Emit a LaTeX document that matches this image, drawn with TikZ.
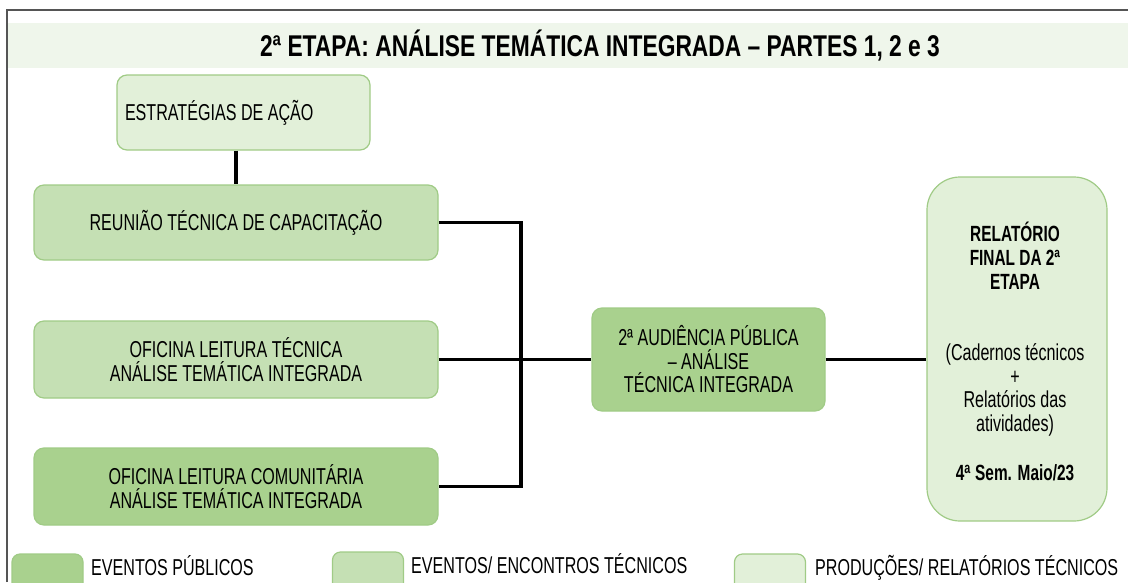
\documentclass[tikz,border=0pt]{standalone}
\usepackage{fontspec}
\setmainfont{Liberation Sans}[FakeStretch=0.70]
\newfontfamily\titlefont{Liberation Sans}[FakeStretch=0.76]
\definecolor{gdark}{HTML}{A9D18E}
\definecolor{gmid}{HTML}{C5E0B4}
\definecolor{glight}{HTML}{E2F0D9}
\definecolor{boxline}{HTML}{A0CB86}
\definecolor{bandc}{HTML}{EFF6EB}
\definecolor{framec}{HTML}{555555}
\begin{document}
\begin{tikzpicture}[x=1pt,y=-1pt,
  box/.style={draw=boxline, line width=1.2pt, rounded corners=10pt, inner sep=0pt,
    align=center, font=\fontsize{23}{23.5}\selectfont},
  darkbox/.style={box, fill=gdark},
  midbox/.style={box, fill=gmid},
  lightbox/.style={box, fill=glight},
  conn/.style={line width=3.5pt, black},
  legbox/.style={draw=boxline, line width=1.2pt, rounded corners=8pt, inner sep=0pt,
    minimum width=71pt, minimum height=50pt},
  legtext/.style={anchor=base west, inner sep=0pt, font=\fontsize{23}{24}\selectfont},
  reltext/.style={inner sep=0pt, align=center}]
\useasboundingbox (0,0) rectangle (1128,582);
\clip (0,0) rectangle (1128,582);
% frame and title band
\fill[bandc] (7,23) rectangle (1128,68);
\draw[framec, line width=1.3pt] (7,582) -- (7,10) -- (1128,10);
\node[inner sep=0pt, font=\titlefont\fontsize{30}{34}\selectfont\bfseries] (title) at (600,46)
  {2ª ETAPA: ANÁLISE TEMÁTICA INTEGRADA – PARTES 1, 2 e 3};
% boxes
\node[lightbox, minimum width=253pt, minimum height=75pt]
  (est) at (243.5,112.5) {\makebox[237pt][l]{ESTRATÉGIAS DE AÇÃO}};
\node[midbox, minimum width=404pt, minimum height=75pt] (rea) at (236,222.5)
  {REUNIÃO TÉCNICA DE CAPACITAÇÃO};
\node[midbox, minimum width=404pt, minimum height=77pt] (oft) at (236,359.5)
  {OFICINA LEITURA TÉCNICA\\ANÁLISE TEMÁTICA INTEGRADA};
\node[darkbox, minimum width=404pt, minimum height=77pt] (com) at (236,486.5)
  {OFICINA LEITURA COMUNITÁRIA\\ANÁLISE TEMÁTICA INTEGRADA};
\node[darkbox, minimum width=233pt, minimum height=103pt] (aud) at (708.5,359.5)
  {2ª AUDIÊNCIA PÚBLICA\\– ANÁLISE\\TÉCNICA INTEGRADA};
\node[lightbox, rounded corners=33pt, minimum width=180pt, minimum height=344pt]
  (rel) at (1017,349) {};
\node[reltext, font=\fontsize{22}{24}\selectfont\bfseries] (relA) at (1015,256)
  {RELATÓRIO\\FINAL DA 2ª\\ETAPA};
\node[reltext, font=\fontsize{23}{23.4}\selectfont] (relB) at (1015,390)
  {(Cadernos técnicos\\+\\Relatórios das\\atividades)};
\node[reltext, font=\fontsize{22}{24}\selectfont\bfseries] (relC) at (1015,473)
  {4\textsuperscript{a} Sem. Maio/23};
% connectors
\coordinate (jx) at (521,0);
\draw[conn] (est.south -| rea.north) -- (rea.north);
\draw[conn] (rea.east) -- (rea.east -| jx) -- (com.east -| jx) -- (com.east);
\draw[conn] (oft.east) -- (aud.west);
\draw[conn] (aud.east) -- (aud.east -| rel.west);
% legend
\node[legbox, fill=gdark] (lg1) at (47.5,579) {};
\node[legtext] (lt1) at (91,575) {EVENTOS PÚBLICOS};
\node[legbox, fill=gmid] (lg2) at (368,577) {};
\node[legtext] (lt2) at (411,573) {EVENTOS/ ENCONTROS TÉCNICOS};
\node[legbox, fill=glight] (lg3) at (770,579) {};
\node[legtext] (lt3) at (815,575) {PRODUÇÕES/ RELATÓRIOS TÉCNICOS};
\end{tikzpicture}
\end{document}
